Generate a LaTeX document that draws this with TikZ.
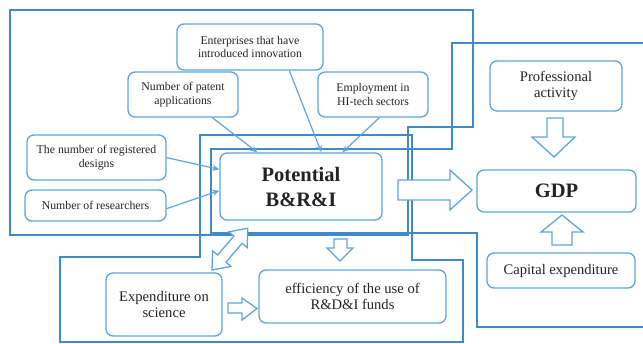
\documentclass[tikz,border=0pt]{standalone}
\usepackage{fontspec}
\setmainfont{Liberation Serif}
\usetikzlibrary{arrows.meta,calc}
\definecolor{frameblue}{RGB}{62,138,202}
\definecolor{boxblue}{RGB}{95,165,218}
\definecolor{textcol}{RGB}{35,35,35}
\newcommand\smallfnt{\fontsize{11.8}{13.5}\selectfont}
\newcommand\midfnt{\fontsize{14.6}{16.5}\selectfont}
\newcommand\bigfnt{\bfseries\fontsize{20.5}{25}\selectfont}
\begin{document}
\begin{tikzpicture}[x=1pt,y=-1pt,
  frame/.style={draw=frameblue,line width=2pt,line join=miter},
  box/.style={draw=boxblue,line width=1.3pt,rounded corners=7pt,fill=white,
    text=textcol,inner sep=0pt,align=center},
  sbox/.style={box,font=\smallfnt},
  mbox/.style={box,font=\midfnt},
  bbox/.style={box,font=\bigfnt},
  conn/.style={draw=boxblue,line width=1.2pt,-{Stealth[length=7pt,width=6pt]}},
  blockarrow/.style={draw=boxblue,line width=1.3pt,fill=white,line join=miter}]
\useasboundingbox (0,0) rectangle (643,343);
% frames
\draw[frame] (10,10) -- (473,10) -- (473,127) -- (408,127) -- (408,235) -- (10,235) -- cycle;
\draw[frame] (200,135) -- (412,135) -- (412,260) -- (463,260) -- (463,341.5) -- (60,341.5) -- (60,257) -- (200,257) -- cycle;
\draw[frame] (646,43) -- (452,43) -- (452,149) -- (211,149) -- (211,233) -- (477,233) -- (477,327) -- (646,327);
% boxes
\node[sbox,minimum width=146pt,minimum height=46pt] (ent) at (250,47) {Enterprises that have\\introduced innovation};
\node[sbox,minimum width=110pt,minimum height=45pt] (pat) at (183,94.5) {Number of patent\\applications};
\node[sbox,minimum width=110pt,minimum height=45pt] (emp) at (373,94.5) {Employment in\\HI-tech sectors};
\node[sbox,minimum width=139pt,minimum height=45pt] (des) at (96.5,157.5) {The number of registered\\designs};
\node[sbox,minimum width=141pt,minimum height=31pt] (res) at (95.5,205.5) {Number of researchers};
\node[bbox,minimum width=162pt,minimum height=67pt] (pot) at (301,186.5) {Potential\\B\&R\&I};
\node[mbox,minimum width=132pt,minimum height=50pt] (prof) at (556,86) {Professional\\activity};
\node[bbox,minimum width=159pt,minimum height=42pt] (gdp) at (556.5,191) {GDP};
\node[mbox,minimum width=148pt,minimum height=35pt] (cap) at (561,270.5) {Capital expenditure};
\node[mbox,minimum width=116pt,minimum height=63pt] (exp) at (164,304.5) {Expenditure on\\science};
\node[mbox,minimum width=187pt,minimum height=53pt] (eff) at (352.5,296.5) {efficiency of the use of\\R\&D\&I funds};
% thin connectors
\draw[conn] ($(pat.south west)+(85,0)$) -- ($(pot.north west)+(38,0)$);
\draw[conn] ($(ent.south west)+(113,0)$) -- ($(pot.north west)+(102,0)$);
\draw[conn] ($(emp.south west)+(62,0)$) -- ($(pot.north west)+(123,0)$);
\draw[conn] ($(des.south east)+(0,-23)$) -- ($(pot.north west)+(0,17)$);
\draw[conn] ($(res.south east)+(0,-13)$) -- ($(pot.south west)+(0,-30)$);
% block arrows
\draw[blockarrow] (398,180) -- (450,180) -- (450,170) -- (472,190) -- (450,210) -- (450,200) -- (398,200) -- cycle;
\draw[blockarrow] (547,118) -- (563,118) -- (563,137) -- (575,137) -- (554,157) -- (532,137) -- (547,137) -- cycle;
\draw[blockarrow] (552,245) -- (552,232) -- (541,232) -- (562,215) -- (583,232) -- (572,232) -- (572,245) -- cycle;
\draw[blockarrow] (334,239) -- (347,239) -- (347,248) -- (353,248) -- (340,261) -- (327,248) -- (334,248) -- cycle;
\draw[blockarrow] (228,303) -- (242,303) -- (242,298) -- (257,308.5) -- (242,320) -- (242,313) -- (228,313) -- cycle;
\begin{scope}[shift={(212,270)},rotate=49.4]
\draw[blockarrow] (0,0) -- (15,12) -- (15,5.5) -- (40,5.5) -- (40,12) -- (55,0) -- (40,-12) -- (40,-5.5) -- (15,-5.5) -- (15,-12) -- cycle;
\end{scope}
\end{tikzpicture}
\end{document}
